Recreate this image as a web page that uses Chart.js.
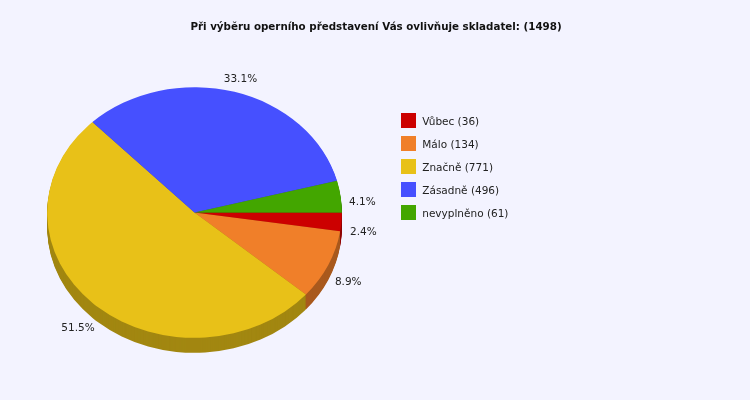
<!DOCTYPE html>
<html><head><meta charset="utf-8">
<style>html,body{margin:0;padding:0;background:#F3F3FF}canvas{display:block}</style>
<script src="https://cdn.jsdelivr.net/npm/chart.js@4"></script>
</head><body><canvas id="c" width="750" height="400"></canvas>
<script>
const titleText = 'Při výběru operního představení Vás ovlivňuje skladatel: (1498)';
const names = ['Vůbec', 'Málo', 'Značně', 'Zásadně', 'nevyplněno'];
const counts = [36, 134, 771, 496, 61];
const colors = ['#CC0000', '#F07F29', '#E8C118', '#4650FF', '#43A600'];
const sideColors = ['#8F0000', '#A9591D', '#A28711', '#3138B3', '#2F7400'];

const FONT = '"DejaVu Sans"';
const TILT_CY = 212.5, TILT_K = 125.5 / 147.5, DEPTH = 15;
const total = counts.reduce((a, b) => a + b, 0);

const tiltPie = {
  id: 'tiltPie',
  afterLayout(chart) {
    const lg = chart.legend;
    lg.left = 393; lg.top = 105; lg.right = 750; lg.bottom = 400;
    lg.width = 357; lg.height = 295;
    if (!lg._shifted) {
      lg._shifted = true;
      const draw = lg._draw;
      lg._draw = function () {
        const ctx = this.ctx, fill = ctx.fillText;
        ctx.fillText = (t, x, y, m) => fill.call(ctx, t, x + 1, y + 1.5, m);
        draw.call(this);
        delete ctx.fillText;
      };
    }
    const tb = chart.titleBlock;
    tb.left = 0; tb.right = 752; tb.width = 752;
  },
  beforeDatasetsDraw(chart) {
    const ctx = chart.ctx, arcs = chart.getDatasetMeta(0).data;
    const cx = arcs[0].x, cy = arcs[0].y;
    ctx.save();
    ctx.translate(cx, TILT_CY);
    ctx.scale(1, TILT_K);
    ctx.translate(-cx, -cy);
    for (let d = DEPTH; d >= 1; d--) {
      ctx.save();
      ctx.translate(0, d / TILT_K);
      arcs.forEach((arc, i) => {
        const saved = arc.options;
        const o = Object.create(saved);
        o.backgroundColor = sideColors[i];
        arc.options = o;
        arc.draw(ctx);
        arc.options = saved;
      });
      ctx.restore();
    }
  },
  afterDatasetsDraw(chart) {
    const ctx = chart.ctx;
    ctx.restore();
    ctx.save();
    ctx.font = '10.5px ' + FONT;
    ctx.fillStyle = '#222222';
    ctx.textAlign = 'center';
    ctx.textBaseline = 'middle';
    chart.getDatasetMeta(0).data.forEach((arc, i) => {
      const mid = (arc.startAngle + arc.endAngle) / 2;
      const c = Math.cos(mid), s = Math.sin(mid);
      const x = arc.x + (arc.outerRadius + 22) * c;
      const y = TILT_CY + arc.outerRadius * TILT_K * s + 22 * s + 8.5;
      ctx.fillText((counts[i] / total * 100).toFixed(1) + '%', x, y);
    });
    ctx.restore();
  }
};

new Chart(document.getElementById('c'), {
  type: 'pie',
  data: {
    labels: names.map((n, i) => n + ' (' + counts[i] + ')'),
    datasets: [{ data: counts, backgroundColor: colors, borderWidth: 0, clip: false }]
  },
  options: {
    responsive: false,
    animation: false,
    rotation: 90,
    layout: { padding: { left: 47, right: 408, top: 0, bottom: 53 } },
    plugins: {
      title: {
        display: true, text: titleText, color: '#111111',
        font: { family: FONT, size: 10.3, weight: 'bold' },
        padding: { top: 21, bottom: 19 }
      },
      legend: {
        display: true, position: 'chartArea', align: 'start',
        labels: { boxWidth: 15, boxHeight: 15, padding: 8, color: '#222222',
                  font: { family: FONT, size: 10.5 } }
      },
      tooltip: { enabled: false }
    }
  },
  plugins: [tiltPie]
});
</script></body></html>
